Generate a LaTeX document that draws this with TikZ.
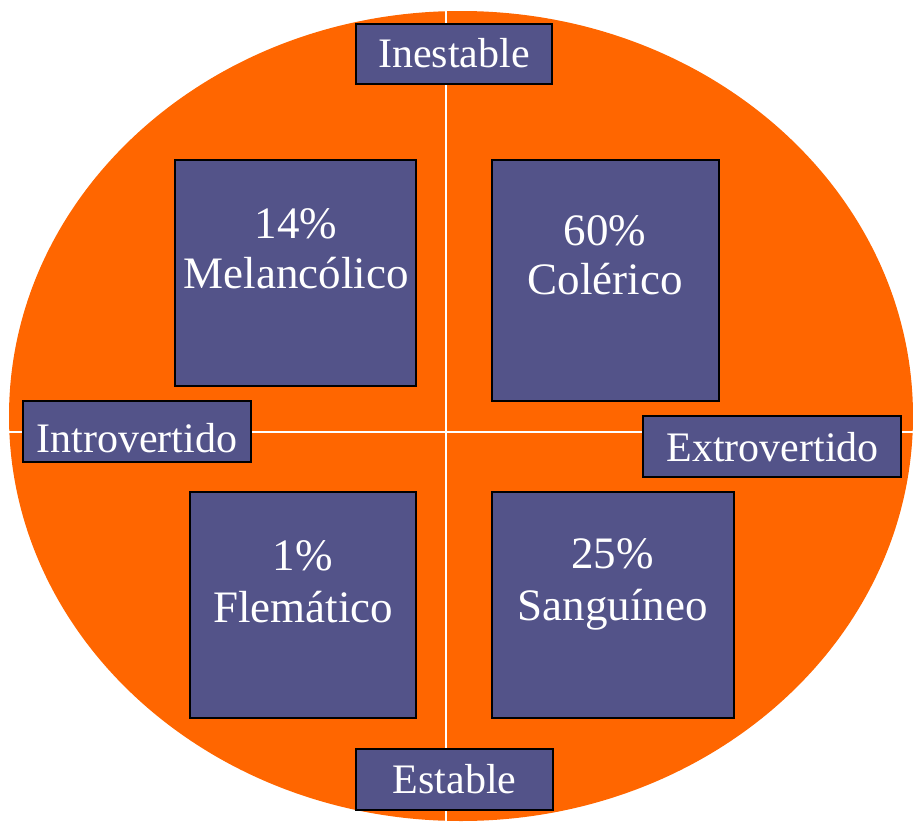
\documentclass[tikz,border=0pt]{standalone}
\usepackage{fontspec}
\setmainfont{Liberation Serif}
\definecolor{orng}{HTML}{FF6600}
\definecolor{boxblue}{HTML}{535389}
\begin{document}
\begin{tikzpicture}[x=1pt,y=-1pt,
  quad/.style={draw=black, line width=1.8pt, fill=boxblue, inner sep=0pt},
  biglbl/.style={text=white, font=\fontsize{45}{50}\selectfont, anchor=base, inner sep=0pt},
  smalllbl/.style={text=white, font=\fontsize{42}{46}\selectfont, anchor=base, inner sep=0pt},
  axisline/.style={white, line width=2pt}]
\useasboundingbox (0,0) rectangle (913,822);
\begin{scope}
\clip (0,0) rectangle (913,822);
\fill[orng] (461,416) ellipse [x radius=452pt, y radius=405pt];
\coordinate (vtop) at (446,0);
\coordinate (vbot) at (446,822);
\coordinate (hleft) at (9,432);
\coordinate (hright) at (913,432);
\draw[axisline] (vtop) -- (vbot);
\draw[axisline] (hleft) -- (hright);
\end{scope}
% boxes
\node[quad, minimum width=196pt, minimum height=60pt] (ines) at (454,54) {};
\node[quad, minimum width=241pt, minimum height=226pt] (mel) at (295.5,273) {};
\node[quad, minimum width=227pt, minimum height=241pt] (col) at (605.5,280.5) {};
\node[quad, minimum width=228pt, minimum height=61pt] (intro) at (137,431.5) {};
\node[quad, minimum width=258pt, minimum height=61pt] (extro) at (772,446.5) {};
\node[quad, minimum width=226pt, minimum height=226pt] (flem) at (303,605) {};
\node[quad, minimum width=242pt, minimum height=226pt] (sang) at (613,605) {};
\node[quad, minimum width=197pt, minimum height=61pt] (est) at (454.5,779.5) {};
% small labels
\node[smalllbl] (tines) at (454,67) {Inestable};
\node[smalllbl] (tintro) at (137,452) {Introvertido};
\node[smalllbl] (textro) at (772.5,461) {Extrovertido};
\node[smalllbl] (test) at (454.5,793) {Estable};
% big labels
\node[biglbl] (pmel) at (296,238) {14\%};
\node[biglbl] (nmel) at (296,288) {Melancólico};
\node[biglbl] (pcol) at (605,245) {60\%};
\node[biglbl] (ncol) at (605,294) {Colérico};
\node[biglbl] (pflem) at (302.5,570) {1\%};
\node[biglbl] (nflem) at (303,622) {Flemático};
\node[biglbl] (psang) at (612.5,568) {25\%};
\node[biglbl] (nsang) at (612.5,620) {Sanguíneo};
\end{tikzpicture}
\end{document}
